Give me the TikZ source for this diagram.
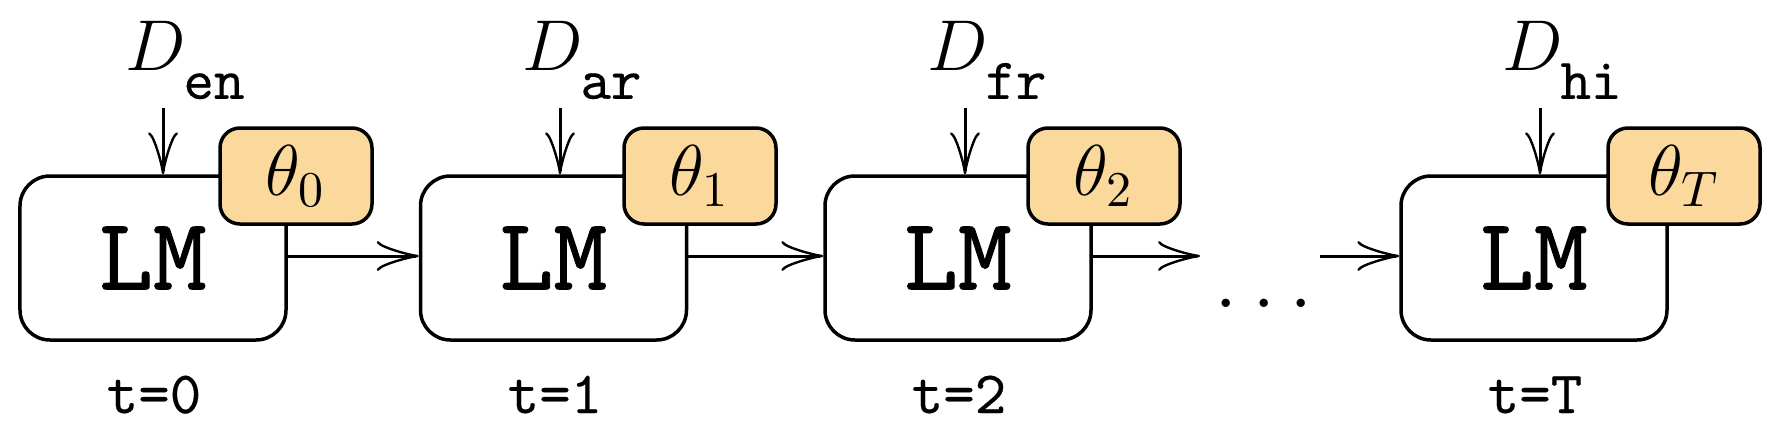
\documentclass[tikz,border=0pt]{standalone}
\usepackage{fontspec}
\setmonofont{lmmono10-regular.otf}[FakeBold=0.35]
\newfontfamily\lmheavytt{lmmono10-regular.otf}[FakeBold=0.9]
\usetikzlibrary{arrows.meta}
\definecolor{thetafill}{RGB}{251,216,156}
\newcommand{\dsub}[1]{$D_{\lower3.6pt\hbox{\fontsize{11.6}{12}\selectfont\ttfamily #1}}$}
\tikzset{
  lmbox/.style={draw, line width=0.7pt, rounded corners=6pt, minimum width=53.2pt, minimum height=32.8pt, inner sep=0pt, fill=white, font=\fontsize{20.5}{24}\selectfont\lmheavytt},
  thbox/.style={draw, line width=0.7pt, rounded corners=4pt, minimum width=30.4pt, minimum height=19.2pt, inner sep=0pt, fill=thetafill, font=\fontsize{13.6}{16}\selectfont},
  dlabel/.style={anchor=base west, inner sep=0pt, font=\fontsize{15.8}{18}\selectfont},
  tlabel/.style={anchor=base, inner sep=0pt, font=\fontsize{12}{14}\selectfont\ttfamily},
  flow/.style={line width=0.6pt, -{Classical TikZ Rightarrow[length=8.4pt,width=6pt]}},
}
\begin{document}
\begin{tikzpicture}[x=0.2pt,y=-0.2pt]
\useasboundingbox (0,0) rectangle (1788,440);
% LM boxes
\node[lmbox] (lm0) at (153,258) {LM};
\node[lmbox] (lm1) at (553.5,258) {LM};
\node[lmbox] (lm2) at (958,258) {LM};
\node[lmbox] (lmT) at (1534,258) {LM};
% theta boxes
\node[thbox] (th0) at (296,176) {$\theta_0$};
\node[thbox] (th1) at (700,176) {$\theta_1$};
\node[thbox] (th2) at (1104,176) {$\theta_2$};
\node[thbox] (thT) at (1684,176) {$\theta_T$};
% data labels
\node[dlabel] (d0) at (124,70) {\dsub{en}};
\node[dlabel] (d1) at (521,70) {\dsub{ar}};
\node[dlabel] (d2) at (926,70) {\dsub{fr}};
\node[dlabel] (dT) at (1501,70) {\dsub{hi}};
% arrow start points
\coordinate (s0) at (163,108);
\coordinate (s1) at (560,108);
\coordinate (s2) at (965,108);
\coordinate (sT) at (1540,108);
\draw[flow] (s0) -- (s0 |- lm0.north);
\draw[flow] (s1) -- (s1 |- lm1.north);
\draw[flow] (s2) -- (s2 |- lm2.north);
\draw[flow] (sT) -- (sT |- lmT.north);
% time labels
\node[tlabel] (t0) at (154,413) {t=0};
\node[tlabel] (t1) at (555,413) {t=1};
\node[tlabel] (t2) at (959,413) {t=2};
\node[tlabel] (tT) at (1535,413) {t=T};
% dots
\node[anchor=base, inner sep=0pt, font=\fontsize{17}{20}\selectfont] (dots) at (1264,307) {$\ldots$};
\coordinate (a3) at (1200,256);
\coordinate (b3) at (1320,256);
% horizontal arrows
\draw[flow] (lm0.east |- 0,256) -- (lm1.west |- 0,256);
\draw[flow] (lm1.east |- 0,256) -- (lm2.west |- 0,256);
\draw[flow] (lm2.east |- 0,256) -- (a3);
\draw[flow] (b3) -- (lmT.west |- 0,256);
\end{tikzpicture}
\end{document}
